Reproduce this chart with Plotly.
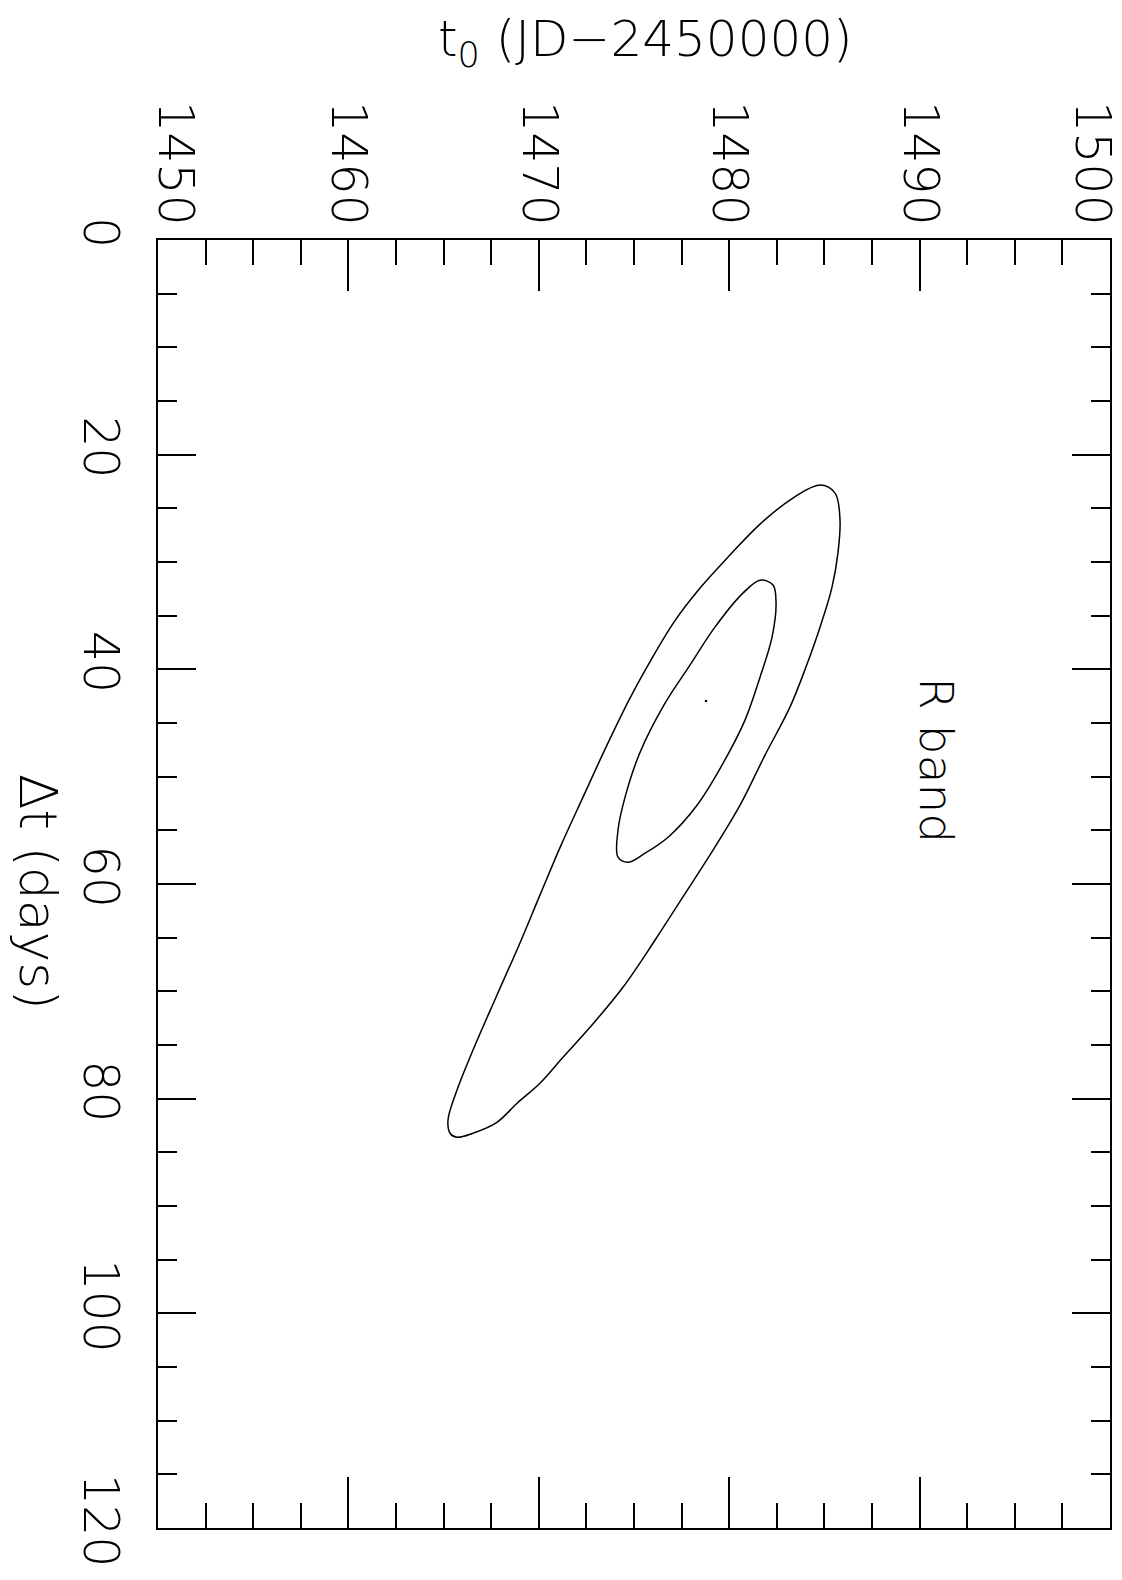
import plotly.graph_objects as go

# Outer confidence contour (t0 in JD-2450000, dt in days)
outer_t0 = [1485.82, 1485.71, 1485.40, 1484.77, 1484.03, 1483.19, 1481.88, 1480.57, 1479.15, 1477.63,
            1476.10, 1474.42, 1472.69, 1471.27, 1470.06, 1468.86, 1467.80, 1466.54, 1465.70, 1465.34,
            1465.23, 1465.70, 1466.54, 1467.80, 1468.96, 1470.06, 1471.17, 1472.37, 1473.58, 1474.79,
            1475.89, 1477.10, 1478.47, 1479.99, 1481.62, 1483.35, 1484.77, 1485.56, 1485.82]
outer_dt = [26.10, 29.17, 32.34, 36.07, 39.79, 43.52, 48.00, 52.66, 56.85, 61.04,
            65.24, 69.62, 73.35, 76.14, 78.56, 80.43, 82.20, 83.22, 83.60, 83.22,
            82.01, 79.22, 75.49, 70.36, 65.70, 61.04, 56.38, 51.72, 47.06, 42.68,
            39.14, 35.60, 32.43, 29.45, 26.47, 24.04, 22.83, 23.58, 26.10]

# Inner confidence contour
inner_t0 = [1481.62, 1482.30, 1482.46, 1482.25, 1481.62, 1480.83, 1479.62, 1478.31, 1476.79, 1475.58,
            1474.69, 1474.16, 1474.16, 1474.53, 1475.32, 1476.63, 1477.94, 1479.25, 1480.72, 1481.62]
inner_dt = [31.69, 32.15, 33.83, 37.00, 40.73, 44.73, 48.93, 52.66, 55.64, 57.13,
            57.97, 57.50, 54.99, 51.91, 47.72, 43.15, 39.61, 36.07, 32.90, 31.69]

best_t0 = [1478.78]
best_dt = [42.96]

t0_ticks = [1450, 1460, 1470, 1480, 1490, 1500]
dt_ticks = [0, 20, 40, 60, 80, 100, 120]
t0_range = [1450, 1500]
dt_range = [120, 0]

FONT = "DejaVu Sans"
W = 200

fig = go.Figure()
fig.add_trace(go.Scatter(x=outer_t0, y=outer_dt, mode="lines",
                         line=dict(color="black", width=1.5, shape="spline", smoothing=1.0),
                         showlegend=False, hoverinfo="skip"))
fig.add_trace(go.Scatter(x=inner_t0, y=inner_dt, mode="lines",
                         line=dict(color="black", width=1.5, shape="spline", smoothing=1.0),
                         showlegend=False, hoverinfo="skip"))
fig.add_trace(go.Scatter(x=best_t0, y=best_dt, mode="markers",
                         marker=dict(color="black", size=2.5),
                         showlegend=False, hoverinfo="skip"))
# dummy traces so the overlay axes are drawn
for xa, ya in (("x2", "y2"), ("x3", "y"), ("x4", "y"), ("x5", "y")):
    fig.add_trace(go.Scatter(x=[None], y=[None], xaxis=xa, yaxis=ya,
                             showlegend=False, hoverinfo="skip"))

tickfont = dict(family=FONT, size=49, color="black", weight=W)
xminor = dict(dtick=2.5, tick0=1450, ticks="inside", ticklen=25, tickwidth=1.5, tickcolor="black")
yminor = dict(dtick=5, tick0=0, ticks="inside", ticklen=19, tickwidth=1.5, tickcolor="black")


def label_axis(vals, shift):
    return dict(range=t0_range, side="top", overlaying="x", tickmode="array",
                tickvals=vals, ticktext=[str(v) for v in vals], tickangle=90, ticks="",
                showline=False, showgrid=False, zeroline=False, automargin=False,
                tickfont=tickfont, ticklabelshift=shift, ticklabelstandoff=6,
                ticklabeloverflow="allow")


fig.update_layout(
    width=1122, height=1580,
    margin=dict(l=158, r=12, t=240, b=52, autoexpand=False),
    plot_bgcolor="white", paper_bgcolor="white",
    xaxis=dict(range=t0_range, side="top", tickmode="array", tickvals=t0_ticks,
               showticklabels=False,
               ticks="inside", ticklen=51, tickwidth=1.5, tickcolor="black", minor=xminor,
               showline=True, linecolor="black", linewidth=1.5, mirror=True,
               showgrid=False, zeroline=False, automargin=False),
    xaxis2=dict(range=t0_range, side="bottom", overlaying="x", tickmode="array", tickvals=t0_ticks,
                showticklabels=False, automargin=False,
                ticks="inside", ticklen=51, tickwidth=1.5, tickcolor="black", minor=xminor,
                showline=False, showgrid=False, zeroline=False),
    xaxis3=label_axis(t0_ticks[:1], 17),
    xaxis4=label_axis(t0_ticks[-1:], -18),
    xaxis5=label_axis(t0_ticks[1:-1], 0),
    yaxis=dict(range=dt_range, tickmode="array", tickvals=dt_ticks,
               ticktext=[str(v) for v in dt_ticks], tickangle=90,
               ticks="inside", ticklen=38, tickwidth=1.5, tickcolor="black", minor=yminor,
               showline=True, linecolor="black", linewidth=1.5, mirror=True,
               showgrid=False, zeroline=False, tickfont=tickfont, automargin=False,
               ticklabelstandoff=13, ticklabeloverflow="allow"),
    yaxis2=dict(range=dt_range, side="right", overlaying="y", tickmode="array", tickvals=dt_ticks,
                showticklabels=False, automargin=False,
                ticks="inside", ticklen=38, tickwidth=1.5, tickcolor="black", minor=yminor,
                showline=False, showgrid=False, zeroline=False),
    annotations=[
        dict(text="t<sub>0</sub> (JD\u22122450000)", xref="paper", yref="paper",
             x=0.5116, y=1.1537, xanchor="center", yanchor="middle", showarrow=False,
             font=dict(family=FONT, size=50, color="black", weight=W)),
        dict(text="\u0394t (days)", xref="paper", yref="paper",
             x=-0.126, y=0.4938, xanchor="center", yanchor="middle", showarrow=False,
             textangle=90, font=dict(family=FONT, size=52, color="black", weight=W)),
        dict(text="R band", xref="x", yref="y", x=1490.91, y=48.46,
             xanchor="center", yanchor="middle", showarrow=False,
             textangle=90, font=dict(family=FONT, size=47, color="black", weight=W)),
    ],
)

fig.write_html("out.html")
